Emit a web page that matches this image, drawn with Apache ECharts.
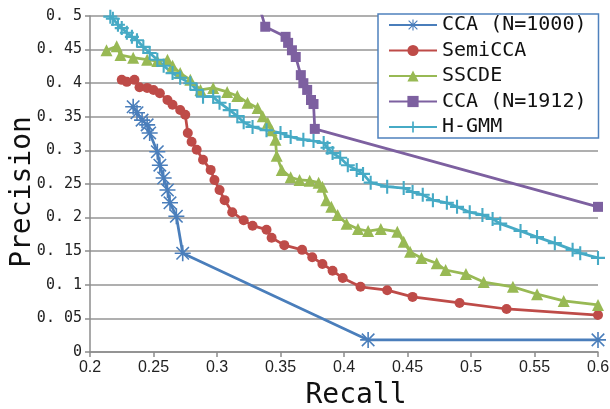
<!DOCTYPE html>
<html>
<head>
<meta charset="utf-8">
<script src="https://cdn.jsdelivr.net/npm/echarts@6/dist/echarts.min.js"></script>
<style>
  html, body { margin: 0; padding: 0; background: #fff; }
  #chart { width: 610px; height: 409px; }
</style>
</head>
<body>
<div id="chart"></div>
<script>
// tick labels
const recallTicks = ['0.2', '0.25', '0.3', '0.35', '0.4', '0.45', '0.5', '0.55', '0.6'];
const precisionTicks = ['0', '0. 05', '0. 1', '0. 15', '0. 2', '0. 25', '0. 3', '0. 35', '0. 4', '0. 45', '0. 5'];
const seriesNames = ['CCA (N=1000)', 'SemiCCA', 'SSCDE', 'CCA (N=1912)', 'H-GMM'];

// [recall, precision] pairs
const cca1000 = [
  [0.234, 0.365], [0.237, 0.356], [0.241, 0.345], [0.245, 0.338], [0.247, 0.326],
  [0.253, 0.298], [0.255, 0.278], [0.258, 0.259], [0.261, 0.241], [0.263, 0.222],
  [0.268, 0.202], [0.273, 0.147], [0.419, 0.018], [0.6, 0.018]
];
const semiCCA = [
  [0.225, 0.405], [0.229, 0.402], [0.235, 0.405], [0.239, 0.394], [0.245, 0.393],
  [0.250, 0.390], [0.255, 0.385], [0.261, 0.375], [0.265, 0.368], [0.271, 0.360],
  [0.275, 0.353], [0.277, 0.326], [0.280, 0.313], [0.284, 0.301], [0.289, 0.286],
  [0.295, 0.271], [0.298, 0.256], [0.302, 0.241], [0.306, 0.226], [0.312, 0.208],
  [0.321, 0.196], [0.328, 0.188], [0.339, 0.182], [0.343, 0.170], [0.353, 0.159],
  [0.367, 0.152], [0.375, 0.141], [0.383, 0.131], [0.391, 0.121], [0.399, 0.110],
  [0.413, 0.097], [0.434, 0.092], [0.454, 0.082], [0.491, 0.073], [0.528, 0.064],
  [0.6, 0.055]
];
const sscde = [
  [0.213, 0.449], [0.221, 0.455], [0.224, 0.442], [0.234, 0.438], [0.245, 0.435],
  [0.253, 0.433], [0.261, 0.435], [0.265, 0.426], [0.271, 0.415], [0.279, 0.405],
  [0.287, 0.390], [0.297, 0.393], [0.308, 0.387], [0.316, 0.381], [0.324, 0.371],
  [0.332, 0.363], [0.336, 0.351], [0.340, 0.341], [0.343, 0.330], [0.346, 0.316],
  [0.347, 0.292], [0.351, 0.271], [0.358, 0.260], [0.365, 0.256], [0.373, 0.255],
  [0.380, 0.252], [0.383, 0.246], [0.386, 0.226], [0.390, 0.216], [0.395, 0.204],
  [0.402, 0.191], [0.411, 0.183], [0.419, 0.180], [0.429, 0.183], [0.442, 0.179],
  [0.447, 0.164], [0.452, 0.149], [0.461, 0.140], [0.473, 0.132], [0.480, 0.122],
  [0.496, 0.116], [0.510, 0.104], [0.533, 0.097], [0.552, 0.086], [0.573, 0.076],
  [0.6, 0.070]
];
const cca1912 = [
  [0.334, 0.51], [0.338, 0.484], [0.354, 0.469], [0.356, 0.460], [0.359, 0.449],
  [0.362, 0.439], [0.366, 0.412], [0.368, 0.400], [0.371, 0.390], [0.374, 0.375],
  [0.376, 0.369], [0.377, 0.332], [0.6, 0.216]
];
const hgmm = [
  [0.216, 0.499], [0.218, 0.496], [0.222, 0.487], [0.225, 0.482], [0.229, 0.475],
  [0.233, 0.469], [0.237, 0.464], [0.242, 0.454], [0.247, 0.445], [0.253, 0.435],
  [0.258, 0.426], [0.265, 0.415], [0.271, 0.408], [0.279, 0.400], [0.284, 0.390],
  [0.289, 0.380], [0.297, 0.380], [0.302, 0.371], [0.310, 0.360], [0.316, 0.351],
  [0.321, 0.342], [0.328, 0.335], [0.339, 0.330], [0.350, 0.326], [0.358, 0.320],
  [0.368, 0.316], [0.376, 0.314], [0.384, 0.311], [0.387, 0.304], [0.391, 0.296],
  [0.397, 0.289], [0.403, 0.278], [0.410, 0.271], [0.415, 0.265], [0.421, 0.252],
  [0.434, 0.246], [0.447, 0.244], [0.454, 0.238], [0.462, 0.234], [0.470, 0.226],
  [0.481, 0.222], [0.489, 0.216], [0.499, 0.208], [0.509, 0.204], [0.517, 0.198],
  [0.523, 0.191], [0.539, 0.180], [0.552, 0.171], [0.566, 0.162], [0.580, 0.152],
  [0.586, 0.147], [0.6, 0.140]
];

const colors = ['#4a7ebb', '#be4b48', '#98b954', '#7d60a0', '#46aac5'];

// marker shapes
const plusPath = 'path://M8.5,0H11.5V8.5H20V11.5H11.5V20H8.5V11.5H0V8.5H8.5Z';
const starPath = 'path://M9,0H11V9H20V11H11V20H9V11H0V9H9Z' +
  'M1.5,2.9L2.9,1.5L10,8.6L17.1,1.5L18.5,2.9L11.4,10L18.5,17.1L17.1,18.5L10,11.4L2.9,18.5L1.5,17.1L8.6,10Z';

const chart = echarts.init(document.getElementById('chart'), null, { renderer: 'canvas' });

function lineSeries(name, data, color, symbol, size) {
  return {
    name: name,
    type: 'line',
    data: data,
    symbol: symbol,
    symbolSize: size,
    showSymbol: true,
    showAllSymbol: true,
    clip: true,
    lineStyle: { color: color, width: 2.75 },
    itemStyle: { color: color, borderWidth: 0 },
    emphasis: { disabled: true },
    animation: false
  };
}

chart.setOption({
  backgroundColor: '#fff',
  animation: false,
  grid: { left: 90, right: 12, top: 16, bottom: 57, outerBoundsMode: 'none' },
  legend: {
    orient: 'vertical',
    left: 378,
    top: 14,
    padding: [1, 12, 1, 10],
    itemGap: 5.5,
    itemWidth: 48,
    itemHeight: 14,
    backgroundColor: '#fff',
    borderColor: '#4f81bd',
    borderWidth: 1.5,
    borderRadius: 0,
    textStyle: { fontFamily: 'DejaVu Sans Mono', fontSize: 20, color: '#111', lineHeight: 20 },
    data: seriesNames
  },
  xAxis: {
    type: 'value',
    min: 0.2,
    max: 0.6,
    interval: 0.05,
    name: 'Recall',
    nameLocation: 'middle',
    nameGap: 30,
    nameMoveOverlap: false,
    nameTextStyle: { fontFamily: 'DejaVu Sans Mono', fontSize: 28, color: '#111', padding: [0, 0, 0, 24] },
    axisLine: { show: true, lineStyle: { color: '#8c8c8c', width: 1.5 } },
    axisTick: { show: true, length: 5, lineStyle: { color: '#8c8c8c', width: 1.5 } },
    axisLabel: {
      margin: 8,
      fontFamily: 'Liberation Sans',
      fontSize: 16,
      color: '#222',
      formatter: v => recallTicks[Math.round((v - 0.2) / 0.05)]
    },
    splitLine: { show: false }
  },
  yAxis: {
    type: 'value',
    min: 0,
    max: 0.5,
    interval: 0.05,
    name: 'Precision',
    nameLocation: 'middle',
    nameRotate: 90,
    nameGap: 53,
    nameMoveOverlap: false,
    nameTextStyle: { fontFamily: 'DejaVu Sans Mono', fontSize: 28, color: '#111', padding: [0, 16, 0, 0] },
    axisLine: { show: true, lineStyle: { color: '#8c8c8c', width: 1.5 } },
    axisTick: { show: true, length: 5, lineStyle: { color: '#8c8c8c', width: 1.5 } },
    axisLabel: {
      margin: 8,
      fontFamily: 'DejaVu Sans Mono',
      fontSize: 15,
      color: '#222',
      formatter: v => precisionTicks[Math.round(v / 0.05)]
    },
    splitLine: { show: true, lineStyle: { color: '#959595', width: 1.5 } }
  },
  series: [
    lineSeries(seriesNames[0], cca1000, colors[0], starPath, 16),
    lineSeries(seriesNames[1], semiCCA, colors[1], 'circle', 10),
    lineSeries(seriesNames[2], sscde, colors[2], 'triangle', 12),
    lineSeries(seriesNames[3], cca1912, colors[3], 'rect', 10),
    lineSeries(seriesNames[4], hgmm, colors[4], plusPath, 14)
  ]
});

window.addEventListener('resize', () => chart.resize());
</script>
</body>
</html>
